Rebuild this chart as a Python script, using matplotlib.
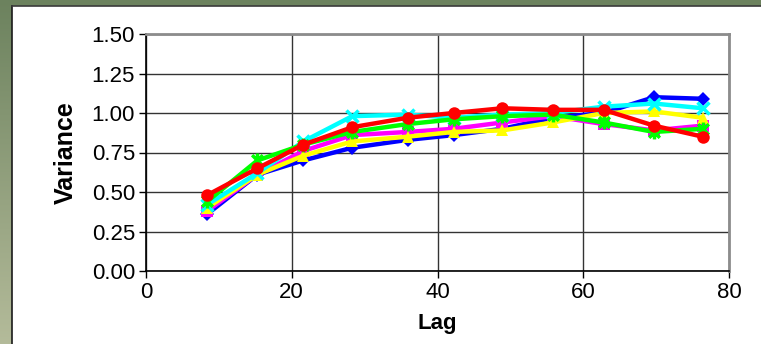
import numpy as np
import matplotlib
matplotlib.use("Agg")
import matplotlib.pyplot as plt
from matplotlib.path import Path
from matplotlib.patches import Rectangle

plt.rcParams['font.family'] = ['Liberation Sans', 'DejaVu Sans']

# Semivariogram data: lag distance vs. variance for six series
lag = [8.4, 15.3, 21.6, 28.3, 35.9, 42.2, 48.9, 55.8, 62.8, 69.7, 76.4]
var_blue = [0.36, 0.61, 0.70, 0.78, 0.83, 0.86, 0.90, 0.97, 1.00, 1.10, 1.09]
var_magenta = [0.38, 0.61, 0.76, 0.86, 0.88, 0.90, 0.94, 0.98, 0.93, 0.89, 0.92]
var_yellow = [0.40, 0.61, 0.73, 0.82, 0.85, 0.88, 0.89, 0.94, 1.00, 1.01, 0.97]
var_cyan = [0.42, 0.62, 0.82, 0.98, 0.99, 0.97, 0.99, 1.00, 1.04, 1.06, 1.03]
var_green = [0.44, 0.70, 0.80, 0.88, 0.93, 0.96, 0.98, 0.99, 0.94, 0.88, 0.90]
var_red = [0.48, 0.65, 0.80, 0.91, 0.97, 1.00, 1.03, 1.02, 1.02, 0.92, 0.85]

x_ticks = [0, 20, 40, 60, 80]
y_ticks = [0.00, 0.25, 0.50, 0.75, 1.00, 1.25, 1.50]

W, H = 761, 344
fig = plt.figure(figsize=(W / 100, H / 100), dpi=100)

# Slide-style backdrop: green gradient strip with a white panel
bg = fig.add_axes([0, 0, 1, 1])
bg.set_xlim(0, W)
bg.set_ylim(H, 0)
bg.axis('off')
top_c = np.array([0x6c, 0x82, 0x5e]) / 255
bot_c = np.array([0xb4, 0xbb, 0x9a]) / 255
t = np.linspace(0, 1, 256)[:, None]
grad = top_c[None, None, :] * (1 - t[..., None]) + bot_c[None, None, :] * t[..., None]
grad = np.repeat(grad, 2, axis=1)
bg.imshow(grad, extent=[0, W, H, 0], aspect='auto', zorder=0)
bg.add_patch(Rectangle((11.5, 5.5), W, H, facecolor='white', edgecolor='none', zorder=1))
bg.plot([11.5, 11.5], [5.5, H], color='#1a1a1a', lw=1.2, zorder=2)
bg.plot([11.5, W], [5.5, 5.5], color='#3a3a3a', lw=1.2, zorder=2)

ax = fig.add_axes([146 / W, 1 - 271 / H, 583 / W, 237 / H])
ax.set_facecolor('white')

# Asterisk-style marker: an X crossed by a vertical bar
star = Path([(-1, -1), (1, 1), (-1, 1), (1, -1), (0, -1.3), (0, 1.3)],
            [Path.MOVETO, Path.LINETO, Path.MOVETO, Path.LINETO, Path.MOVETO, Path.LINETO])

series = [
    (var_blue, '#0000ff', 'D', 7, 'full'),
    (var_magenta, '#ff00ff', 's', 8, 'full'),
    (var_yellow, '#ffff00', '^', 9, 'full'),
    (var_cyan, '#00ffff', 'x', 9, 'line'),
    (var_green, '#00ff00', star, 10, 'line'),
    (var_red, '#ff0000', 'o', 9, 'full'),
]
for vals, col, mk, ms, kind in series:
    if kind == 'line':
        ax.plot(lag, vals, color=col, lw=3.2, marker=mk, ms=ms, mew=2.5,
                mec=col, mfc='none', zorder=3, clip_on=False)
    else:
        ax.plot(lag, vals, color=col, lw=3.2, marker=mk, ms=ms, mew=0,
                mfc=col, zorder=3, clip_on=False)

ax.set_xlim(0, 80)
ax.set_ylim(0, 1.5)
ax.set_xticks(x_ticks)
ax.set_yticks(y_ticks)
ax.set_xticklabels([str(v) for v in x_ticks], fontsize=16)
ax.set_yticklabels([f"{v:.2f}" for v in y_ticks], fontsize=16)
ax.grid(True, color='#333333', lw=1)
ax.set_axisbelow(True)
ax.tick_params(direction='out', length=5, width=1, color='black', pad=3)
for side in ('left', 'bottom'):
    ax.spines[side].set_color('black')
    ax.spines[side].set_linewidth(1.2)
for side in ('top', 'right'):
    ax.spines[side].set_color('#8c8c8c')
    ax.spines[side].set_linewidth(2)

ax.set_xlabel('Lag', fontsize=16, fontweight='bold', labelpad=7)
ax.set_ylabel('Variance', fontsize=18, fontweight='bold', labelpad=10)

fig.savefig('out.png', dpi=100)
